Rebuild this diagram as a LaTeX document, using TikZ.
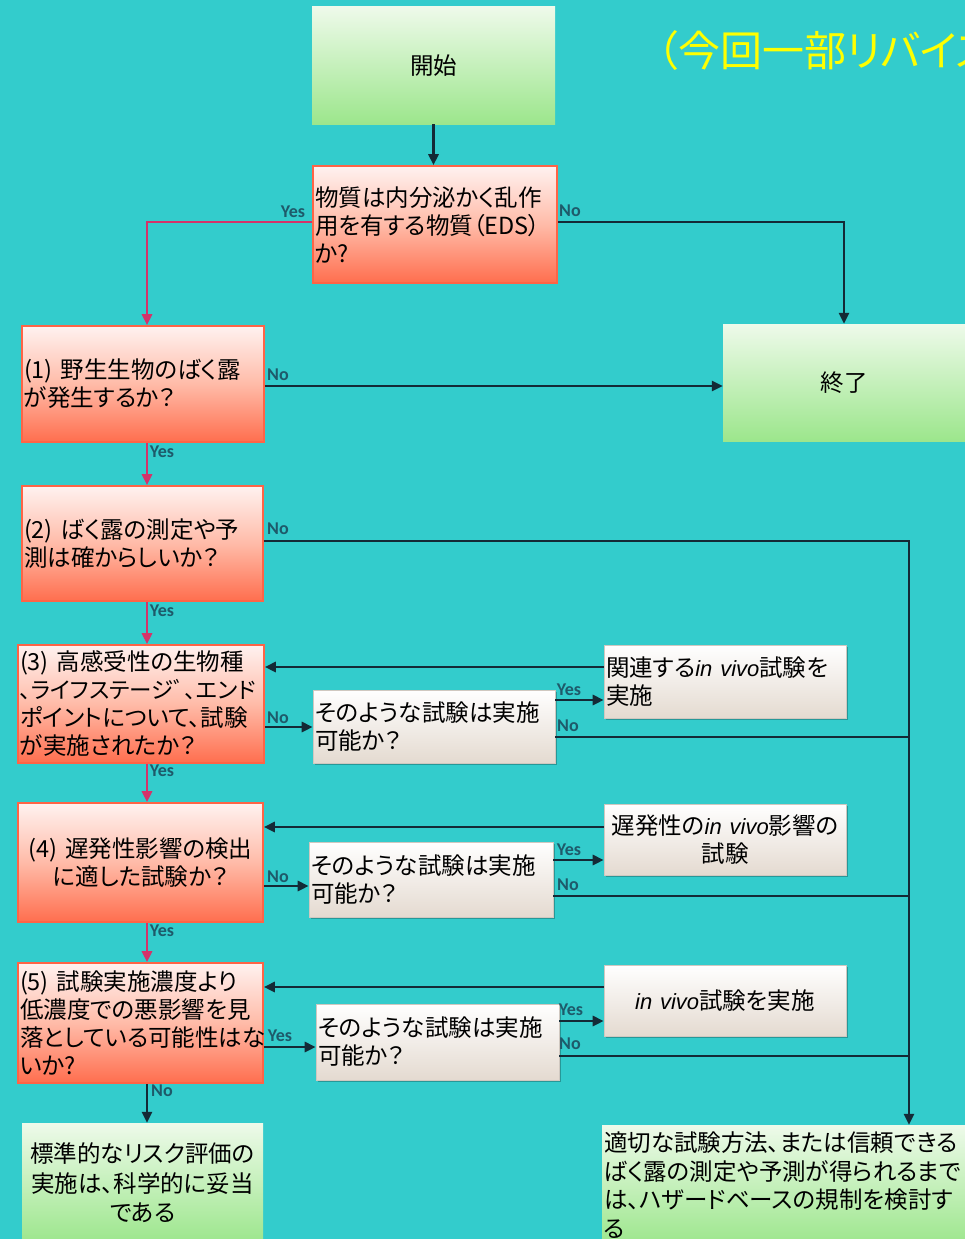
\documentclass[tikz,border=0pt]{standalone}
\usepackage{fontspec}
\usetikzlibrary{arrows.meta,calc,shadows}
\newfontfamily\jpf[RawFeature=+palt]{Noto Sans CJK JP}
\newfontfamily\ivf{Liberation Sans}
\newfontfamily\labf{Carlito}
\newcommand\iv{{\ivf\itshape\fontsize{22}{28}\selectfont in vivo}}
\definecolor{bg}{HTML}{33CCCC}
\definecolor{otop}{HTML}{FFF2F0}
\definecolor{omid}{HTML}{FFBBA8}
\definecolor{obot}{HTML}{FF6E4E}
\definecolor{oedge}{HTML}{FF6446}
\definecolor{gtop}{HTML}{EEFAEA}
\definecolor{gbot}{HTML}{9CE68C}
\definecolor{wbot}{HTML}{E4DAD0}
\definecolor{wedge}{HTML}{D0C8C0}
\definecolor{dcol}{HTML}{142A36}
\definecolor{rcol}{HTML}{D4336A}
\definecolor{labcol}{HTML}{1E5A6A}
\definecolor{titley}{HTML}{FFFF00}
\begin{document}
\begin{tikzpicture}[x=1pt,y=-1pt,
  box/.style={rectangle, inner xsep=2pt, inner ysep=0pt, text=black,
    font=\jpf\fontsize{23.5}{28}\selectfont},
  obox/.style={box, draw=oedge, line width=1.6pt, top color=otop, bottom color=obot, middle color=omid},
  gbox/.style={box, top color=gtop, bottom color=gbot},
  wbox/.style={box, draw=wedge, line width=0.6pt, top color=white, bottom color=wbot,
    drop shadow={shadow xshift=2pt, shadow yshift=-2pt, fill=black, opacity=0.25}},
  dline/.style={draw=dcol, line width=2.8pt},
  rline/.style={draw=rcol, line width=2.8pt},
  arr/.style={-{Triangle[length=11pt,width=10pt]}},
  lab/.style={font=\labf\bfseries\fontsize{18}{18}\selectfont, text=labcol, inner sep=0pt}]
\useasboundingbox (0,0) rectangle (965,1239);
\fill[bg] (0,0) rectangle (965,1239);
\clip (0,0) rectangle (965,1239);

\node[anchor=west, inner sep=0pt, text=titley, font=\jpf\fontsize{42}{42}\selectfont] (title) at (657,51) {（今回一部リバイス）};

% main boxes
\node[gbox, minimum width=243, minimum height=117, text width=239, align=center] (start) at (433.5,65.5) {開始};
\node[obox, minimum width=244, minimum height=117, text width=240, align=left] (q0) at (435,224.5) {物質は内分泌かく乱作\\用を有する物質（EDS）\\か?};
\node[gbox, minimum width=242, minimum height=117, text width=238, align=center] (end) at (844,382.5) {終了};
\node[obox, minimum width=242, minimum height=116, text width=238, align=left] (q1) at (143,384) {(1) 野生生物のばく露\\が発生するか？};
\node[obox, minimum width=241, minimum height=115, text width=237, align=left] (q2) at (142.5,543.5) {(2) ばく露の測定や予\\測は確からしいか？};
\node[obox, minimum width=246, minimum height=118, text width=242, align=left] (q3) at (141,704) {(3) 高感受性の生物種\\{\fontsize{22.5}{28}\selectfont 、ライフステージﾞ、エンド}\\ポイントについて、試験\\が実施されたか？};
\node[obox, minimum width=245, minimum height=119, text width=241, align=center] (q4) at (140.5,862.5) {(4) 遅発性影響の検出\\に適した試験か？};
\node[obox, minimum width=245, minimum height=120, text width=241, align=left] (q5) at (140.5,1023) {(5) 試験実施濃度より\\低濃度での悪影響を見\\落としている可能性はな\\いか?};
\node[gbox, minimum width=241, minimum height=120, text width=237, align=center,
  font=\jpf\fontsize{23.5}{29.5}\selectfont] (std) at (142.5,1183) {標準的なリスク評価の\\実施は、科学的に妥当\\である};
\node[gbox, minimum width=372, minimum height=120, text width=368, align=left,
  font=\jpf\fontsize{23.5}{28.7}\selectfont] (haz) at (788,1185) {適切な試験方法、または信頼できる\\ばく露の測定や予測が得られるまで\\は、ハザードベースの規制を検討す\\る};

% side boxes
\node[wbox, minimum width=242, minimum height=73, text width=238, align=left] (s3) at (434,726.5) {そのような試験は実施\\可能か？};
\node[wbox, minimum width=242, minimum height=73, text width=238, align=left] (r3) at (725,681.5) {関連する\iv 試験を\\実施};
\node[wbox, minimum width=244, minimum height=75, text width=240, align=left] (s4) at (431,879.5) {そのような試験は実施\\可能か？};
\node[wbox, minimum width=242, minimum height=71, text width=238, align=center] (r4) at (725,839.5) {遅発性の\iv 影響の\\試験};
\node[wbox, minimum width=243, minimum height=76, text width=239, align=left] (s5) at (437.5,1042) {そのような試験は実施\\可能か？};
\node[wbox, minimum width=242, minimum height=71, text width=238, align=center] (r5) at (725,1000.5) {\iv 試験を実施};

% level coordinates
\coordinate (rx) at (147,0);
\coordinate (bus) at (909,0);
\coordinate (L0) at (0,222);
\coordinate (L1) at (0,386);
\coordinate (L2) at (0,541);
\coordinate (ret3) at (0,667);
\coordinate (no3) at (0,727);
\coordinate (yes3) at (0,700);
\coordinate (no3s) at (0,737);
\coordinate (ret4) at (0,827);
\coordinate (no4) at (0,886);
\coordinate (yes4) at (0,860);
\coordinate (no4s) at (0,896);
\coordinate (ret5) at (0,987);
\coordinate (yes5) at (0,1047);
\coordinate (yes5s) at (0,1021);
\coordinate (no5s) at (0,1056);

% connectors
\draw[dline,arr] (start.south) -- (start.south |- q0.north);
\draw[rline,arr] (q0.west |- L0) -| (rx |- q1.north);
\draw[dline,arr] (q0.east |- L0) -| (end.north);
\draw[dline,arr] (q1.east |- L1) -- (end.west |- L1);
\draw[rline,arr] (rx |- q1.south) -- (rx |- q2.north);
\draw[dline,arr] (q2.east |- L2) -- (bus |- L2) -- (bus |- haz.north);
\draw[rline,arr] (rx |- q2.south) -- (rx |- q3.north);

\draw[dline,arr] (r3.west |- ret3) -- (q3.east |- ret3);
\draw[dline,arr] (q3.east |- no3) -- (s3.west |- no3);
\draw[dline,arr] (s3.east |- yes3) -- (r3.west |- yes3);
\draw[dline] (s3.east |- no3s) -- (bus |- no3s);
\draw[rline,arr] (rx |- q3.south) -- (rx |- q4.north);

\draw[dline,arr] (r4.west |- ret4) -- (q4.east |- ret4);
\draw[dline,arr] (q4.east |- no4) -- (s4.west |- no4);
\draw[dline,arr] (s4.east |- yes4) -- (r4.west |- yes4);
\draw[dline] (s4.east |- no4s) -- (bus |- no4s);
\draw[rline,arr] (rx |- q4.south) -- (rx |- q5.north);

\draw[dline,arr] (r5.west |- ret5) -- (q5.east |- ret5);
\draw[dline,arr] (q5.east |- yes5) -- (s5.west |- yes5);
\draw[dline,arr] (s5.east |- yes5s) -- (r5.west |- yes5s);
\draw[dline] (s5.east |- no5s) -- (bus |- no5s);
\draw[dline,arr] (rx |- q5.south) -- (rx |- std.north);

% labels
\node[lab] (lq0y) at (293,212) {Yes};
\node[lab] (lq0n) at (570,211) {No};
\node[lab] (lq1n) at (278,375) {No};
\node[lab] (lq1y) at (162,452) {Yes};
\node[lab] (lq2n) at (278,529) {No};
\node[lab] (lq2y) at (162,611) {Yes};
\node[lab] (lq3n) at (278,718) {No};
\node[lab] (ls3y) at (569,690) {Yes};
\node[lab] (ls3n) at (568,726) {No};
\node[lab] (lq3y) at (162,771) {Yes};
\node[lab] (lq4n) at (278,877) {No};
\node[lab] (ls4y) at (569,850) {Yes};
\node[lab] (ls4n) at (568,885) {No};
\node[lab] (lq4y) at (162,931) {Yes};
\node[lab] (lq5y) at (280,1036) {Yes};
\node[lab] (ls5y) at (571,1010) {Yes};
\node[lab] (ls5n) at (570,1044) {No};
\node[lab] (lq5n) at (162,1091) {No};
\end{tikzpicture}
\end{document}
